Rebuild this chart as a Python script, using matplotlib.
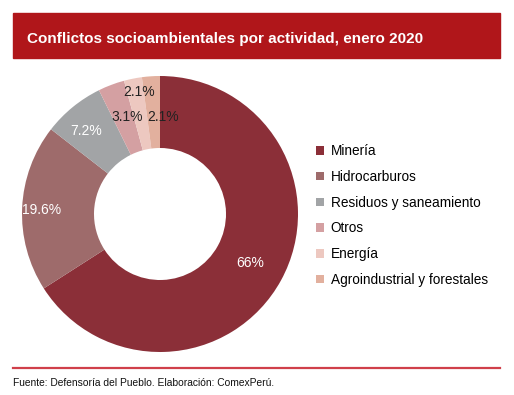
import matplotlib.pyplot as plt
from matplotlib.patches import Rectangle

plt.rcParams['font.family'] = ['Liberation Sans', 'DejaVu Sans']

categories = ["Minería", "Hidrocarburos", "Residuos y saneamiento", "Otros",
              "Energía", "Agroindustrial y forestales"]
values = [66, 19.6, 7.2, 3.1, 2.1, 2.1]
pct_labels = ["66%", "19.6%", "7.2%", "3.1%", "2.1%", "2.1%"]
colors = ["#8B2F38", "#9E6B6B", "#A2A4A6", "#D4A0A2", "#EDC8C0", "#E2B09E"]
label_colors = ["white", "white", "white", "#222222", "#222222", "#222222"]
# label positions inside the ring (data units, radius = 1)
label_pos = [(0.652, -0.355), (-0.855, 0.029), (-0.536, 0.601),
             (-0.239, 0.703), (-0.152, 0.884), (0.022, 0.703)]

W, H = 514, 395
fig = plt.figure(figsize=(W / 100, H / 100), dpi=100)

# header bar
fig.patches.append(Rectangle((13 / W, 1 - 58 / H), 487 / W, 45 / H,
                             transform=fig.transFigure, color="#B0161A"))
fig.text(27 / W, 1 - 39 / H, "Conflictos socioambientales por actividad, enero 2020",
         color="white", fontsize=11, fontweight="bold", va="center", ha="left")

# donut
ax = fig.add_axes([22 / W, 1 - 352 / H, 276 / W, 276 / H])
wedges, _ = ax.pie(values, colors=colors, startangle=90, counterclock=False,
                   radius=1, wedgeprops=dict(width=1 - 66 / 138, linewidth=0))
ax.set_aspect("equal")
ax.set_xlim(-1, 1)
ax.set_ylim(-1, 1)
ax.axis("off")
for txt, (x, y), c in zip(pct_labels, label_pos, label_colors):
    ax.text(x, y, txt, ha="center", va="center", fontsize=10, color=c)

# legend
ax.legend(wedges, categories, loc="upper left",
          bbox_to_anchor=(304 / W, 1 - 132 / H), bbox_transform=fig.transFigure,
          frameon=False, fontsize=9.8, handlelength=0.6, handleheight=0.6,
          handletextpad=0.45, labelspacing=0.86)

# bottom rule and source
fig.add_artist(plt.Line2D([13 / W, 500 / W], [1 - 368 / H, 1 - 368 / H],
                          color="#D0404A", linewidth=1.6, transform=fig.transFigure))
fig.text(13 / W, 1 - 383 / H, "Fuente: Defensoría del Pueblo. Elaboración: ComexPerú.",
         fontsize=7.4, va="center", ha="left", color="#111111")

fig.savefig("out.png", dpi=100)
